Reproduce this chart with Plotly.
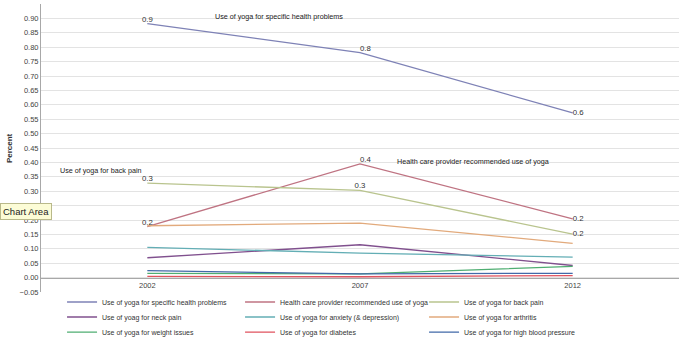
import plotly.graph_objects as go

years = ["2002", "2007", "2012"]

series_names = [
    "Use of yoga for specific health problems",
    "Health care provider recommended use of yoga",
    "Use of yoga for back pain",
    "Use of yoag for neck pain",
    "Use of yoga for anxiety (& depression)",
    "Use of yoga for arthritis",
    "Use of yoga for weight issues",
    "Use of yoga for diabetes",
    "Use of yoga for high blood pressure",
]

specific_health = [0.882, 0.781, 0.572]
provider_recommended = [0.177, 0.395, 0.204]
back_pain = [0.328, 0.303, 0.151]
neck_pain = [0.069, 0.114, 0.042]
anxiety = [0.105, 0.085, 0.071]
arthritis = [0.180, 0.189, 0.119]
weight_issues = [0.015, 0.013, 0.039]
diabetes = [0.004, 0.003, 0.007]
high_blood_pressure = [0.024, 0.013, 0.015]

series_values = [specific_health, provider_recommended, back_pain, neck_pain, anxiety,
                 arthritis, weight_issues, diabetes, high_blood_pressure]
colors = ["#7E82B6", "#BF7382", "#B9C48E", "#80508E", "#63AEB5",
          "#E2AA7C", "#4FAE72", "#E0525E", "#4169A8"]
labelled = [True, True, True, False, False, False, False, False, False]
label_positions = [
    ["top center", "top right", "middle right"],
    ["top center", "top right", "middle right"],
    ["top center", "top center", "middle right"],
]
legend_rows = ["legend", "legend", "legend", "legend2", "legend2", "legend2",
               "legend3", "legend3", "legend3"]
legend_col_widths = [133, 139, 133, 133, 139, 133, 133, 139, 133]

FONT = "Liberation Sans, Arial, sans-serif"

fig = go.Figure()
for i, (name, vals) in enumerate(zip(series_names, series_values)):
    if labelled[i]:
        kw = dict(mode="lines+text", texttemplate="%{y:.1f}",
                  textposition=label_positions[i],
                  textfont=dict(size=7.8, color="#333333", family=FONT))
    else:
        kw = dict(mode="lines")
    fig.add_trace(go.Scatter(x=years, y=vals, name=name, legend=legend_rows[i],
                             legendwidth=legend_col_widths[i],
                             line=dict(color=colors[i], width=1.3),
                             hoverinfo="skip", **kw))

annotations = [
    dict(text="Use of yoga for specific health problems", x=0.27, y=0.955),
    dict(text="Use of yoga for back pain", x=0.027, y=0.421),
    dict(text="Health care provider recommended use of yoga", x=0.555, y=0.452),
]
ann = []
for a in annotations:
    ann.append(dict(text=a["text"], x=a["x"], y=a["y"], xref="paper", yref="paper",
                    xanchor="left", yanchor="middle", showarrow=False,
                    font=dict(size=7.2, color="#222222", family=FONT)))
ann.append(dict(text="<b>Percent</b>", x=-0.050, y=0.5, xref="paper", yref="paper",
                textangle=-90, showarrow=False, xanchor="center", yanchor="middle",
                font=dict(size=8, color="#333333", family=FONT)))
ann.append(dict(text="Chart Area", x=-0.024, y=0.281, xref="paper", yref="paper",
                showarrow=False, xanchor="center", yanchor="middle",
                bgcolor="#FCFCD6", bordercolor="#B9B98A", borderwidth=1, borderpad=2,
                font=dict(size=9.5, color="#222222", family=FONT)))


def legend_row(ypos):
    return dict(orientation="h", x=0.033, y=ypos, xanchor="left", yanchor="middle",
                entrywidth=133, entrywidthmode="pixels", itemwidth=30,
                font=dict(size=7, color="#333333", family=FONT),
                bgcolor="rgba(0,0,0,0)", traceorder="normal")


fig.update_layout(
    width=680, height=337,
    margin=dict(l=41, r=1, t=4, b=45, autoexpand=False),
    paper_bgcolor="white", plot_bgcolor="white",
    font=dict(family=FONT, size=8, color="#444444"),
    showlegend=True,
    legend=legend_row(-0.0347),
    legend2=legend_row(-0.0868),
    legend3=legend_row(-0.139),
    xaxis=dict(type="category", range=[-0.5, 2.5], showgrid=False, zeroline=False,
               anchor="free", position=0.05, showline=True, linecolor="#A8A8A8",
               linewidth=1, ticks="", tickfont=dict(size=7.5, color="#444444"),
               fixedrange=True),
    yaxis=dict(range=[-0.05, 0.95], dtick=0.05, tick0=0, tickformat=".2f",
               showgrid=True, gridcolor="#E3E3E3", gridwidth=1, zeroline=False,
               showline=True, linecolor="#A8A8A8", linewidth=1, ticks="",
               tickfont=dict(size=7.5, color="#444444"), fixedrange=True),
    annotations=ann,
)

fig.write_html("out.html", config={"displayModeBar": False},
               post_script="document.body.style.margin='0';")
